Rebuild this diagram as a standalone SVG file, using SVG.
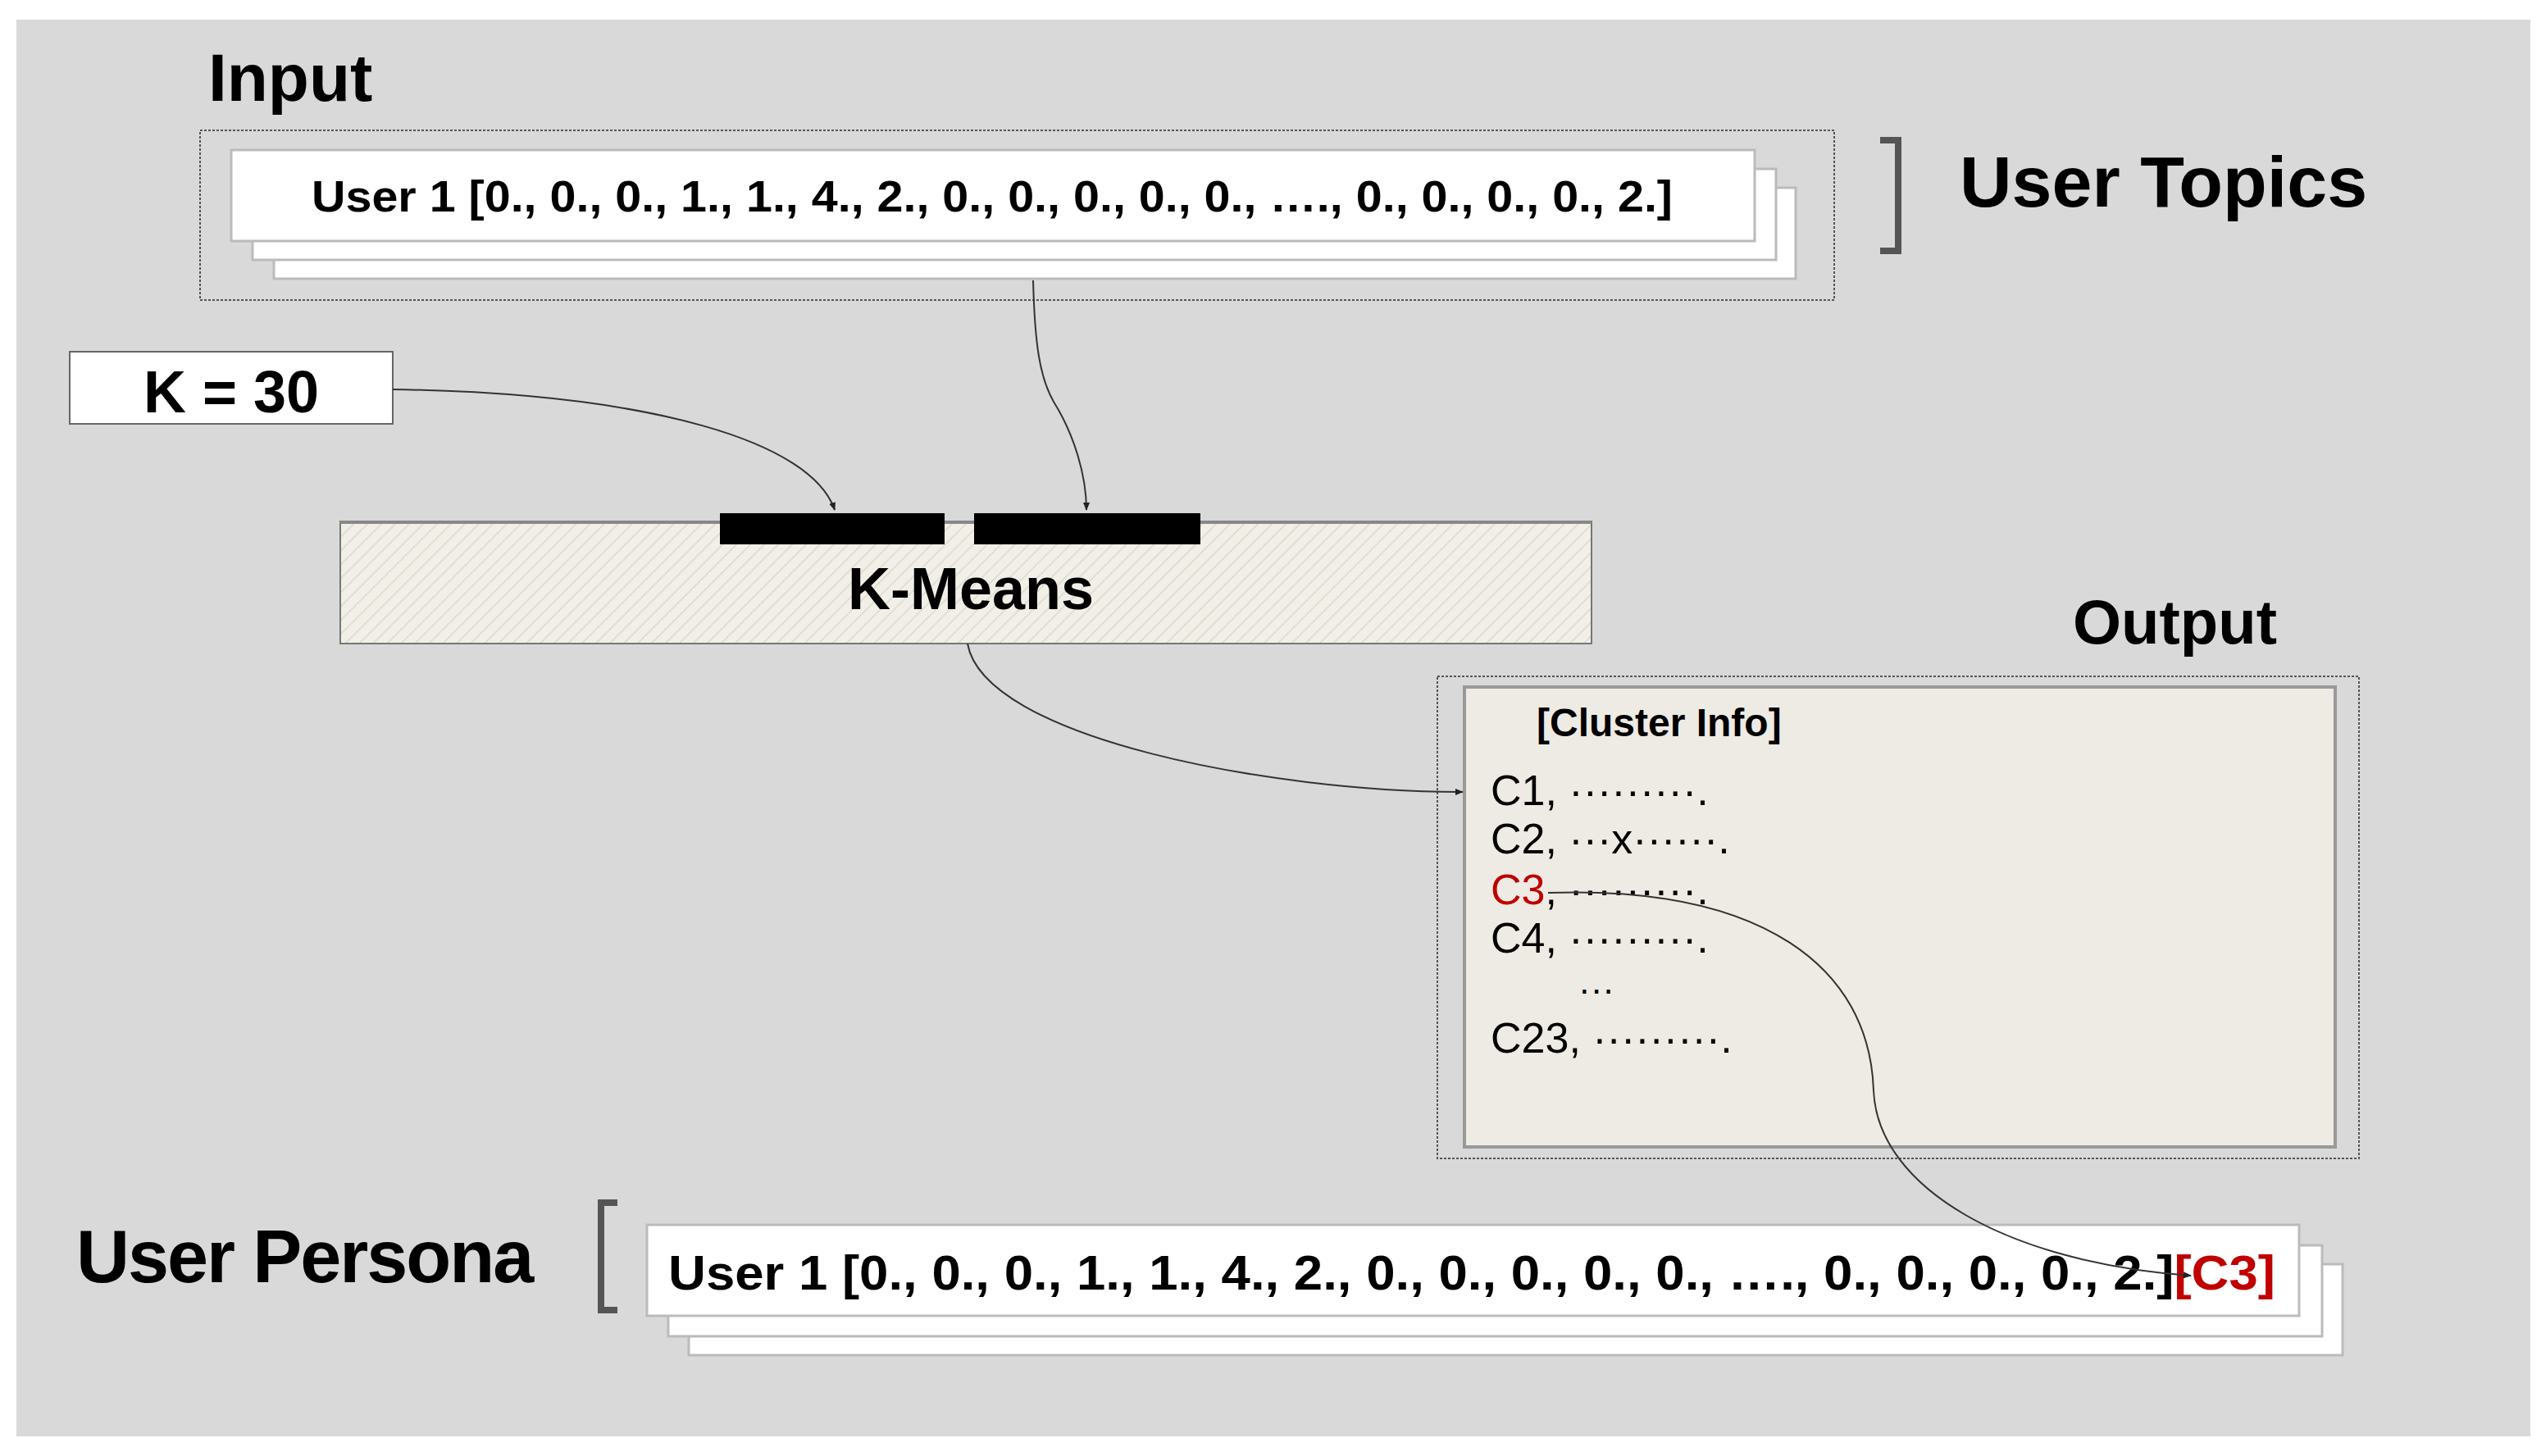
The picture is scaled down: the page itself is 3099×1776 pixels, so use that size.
<svg xmlns="http://www.w3.org/2000/svg" width="3099" height="1776" viewBox="0 0 3099 1776">
<style>
text{font-family:"Liberation Sans",Arial,sans-serif;fill:#000}
.b{font-weight:bold}
.card{fill:#fff;stroke:#bbb;stroke-width:3}
.dash{fill:none;stroke:#555;stroke-width:2;stroke-dasharray:3 2}
.conn{fill:none;stroke:#333;stroke-width:2}
.br{fill:none;stroke:#555;stroke-width:8}
</style>
<defs>
<pattern id="hatch" width="12" height="12" patternUnits="userSpaceOnUse" patternTransform="rotate(45)">
<rect width="12" height="12" fill="#f1efe7"/><line x1="0" y1="0" x2="0" y2="12" stroke="#dcd8cc" stroke-width="3"/>
</pattern>
<marker id="ar" markerWidth="10" markerHeight="10" refX="9" refY="5" orient="auto" markerUnits="userSpaceOnUse"><path d="M0,1 L10,5 L0,9 Z" fill="#222"/></marker>
</defs>
<rect width="3099" height="1776" fill="#fff"/>
<rect x="20" y="24" width="3066" height="1728" fill="#d9d9d9"/>
<g id="input">
<text x="254" y="123" class="b" font-size="82">Input</text>
<rect x="244" y="159" width="1993" height="207" class="dash"/>
<rect x="334" y="229" width="1856" height="111" class="card"/>
<rect x="308" y="206" width="1858" height="111" class="card"/>
<rect x="282" y="183" width="1858" height="111" class="card"/>
<text x="1210" y="258" class="b" font-size="54" text-anchor="middle" textLength="1660" lengthAdjust="spacingAndGlyphs">User 1 [0., 0., 0., 1., 1., 4., 2., 0., 0., 0., 0., 0., …., 0., 0., 0., 0., 2.]</text>
<path d="M2293,171 H2315 V306 H2293" class="br"/>
<text x="2390" y="252" class="b" font-size="88">User Topics</text>
</g>
<g id="k">
<rect x="85" y="429" width="394" height="88" fill="#fff" stroke="#666" stroke-width="2"/>
<text x="282" y="503" class="b" font-size="72" text-anchor="middle">K = 30</text>
</g>
<g id="kmeans">
<rect x="415" y="636" width="1526" height="149" fill="url(#hatch)" stroke="#777" stroke-width="2"/>
<line x1="415" y1="637" x2="1941" y2="637" stroke="#888" stroke-width="4"/>
<rect x="878" y="626" width="274" height="38" fill="#000"/>
<rect x="1188" y="626" width="276" height="38" fill="#000"/>
<text x="1184" y="743" class="b" font-size="72" text-anchor="middle">K-Means</text>
</g>
<g id="output">
<text x="2528" y="785" class="b" font-size="76">Output</text>
<rect x="1753" y="825" width="1124" height="588" class="dash"/>
<rect x="1786" y="838" width="1062" height="561" fill="#edebe3" stroke="#999" stroke-width="4"/>
<text x="1874" y="898" class="b" font-size="48">[Cluster Info]</text>
<g font-size="52">
<text x="1818" y="982">C1, ·········.</text>
<text x="1818" y="1041">C2, ···x······.</text>
<text x="1818" y="1103"><tspan fill="#c00000">C3</tspan>, ·········.</text>
<text x="1818" y="1162">C4, ·········.</text>
<text x="1925" y="1222" font-size="44">···</text>
<text x="1818" y="1284">C23, ·········.</text>
</g>
</g>
<g id="persona">
<text x="93" y="1564" class="b" font-size="90" letter-spacing="-2">User Persona</text>
<path d="M753,1467 H733 V1598 H753" class="br"/>
<rect x="840" y="1542" width="2017" height="111" class="card"/>
<rect x="815" y="1519" width="2017" height="111" class="card"/>
<rect x="789" y="1494" width="2015" height="111" class="card"/>
<text x="815" y="1573" class="b" font-size="60" textLength="1960" lengthAdjust="spacingAndGlyphs">User 1 [0., 0., 0., 1., 1., 4., 2., 0., 0., 0., 0., 0., …., 0., 0., 0., 0., 2.]<tspan fill="#c00000">[C3]</tspan></text>
</g>
<g id="connectors">
<path d="M1260,342 C1262,420 1268,460 1285,490 C1310,530 1325,580 1325,622" class="conn" marker-end="url(#ar)"/>
<path d="M479,475 C800,480 990,540 1018,622" class="conn" marker-end="url(#ar)"/>
<path d="M1180,785 C1200,900 1550,966 1784,966" class="conn" marker-end="url(#ar)"/>
<path d="M1888,1089 C2150,1080 2280,1180 2285,1330 C2290,1450 2450,1540 2672,1556" class="conn" marker-end="url(#ar)"/>
</g>
</svg>
